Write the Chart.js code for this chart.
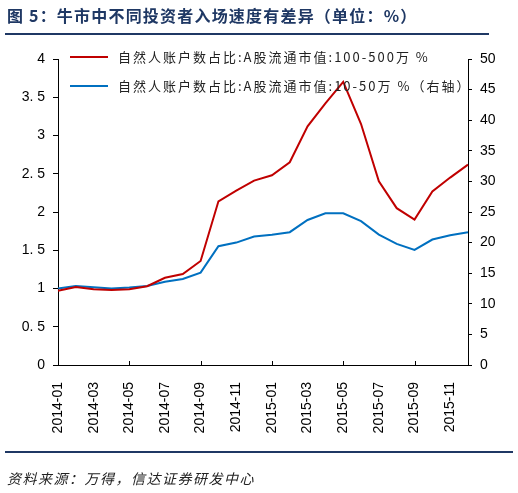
<!DOCTYPE html>
<html>
<head>
<meta charset="utf-8">
<script src="https://cdn.jsdelivr.net/npm/chart.js@4.4.1/dist/chart.umd.min.js"></script>
<style>
  body { margin: 0; background: #fff; }
  #page { position: relative; width: 518px; height: 493px; overflow: hidden; font-family: "Noto Sans CJK SC", sans-serif; }
  #chart { position: absolute; left: 0; top: 0; }
  #title { position: absolute; left: 7px; top: 3px; font-size: 16px; font-weight: bold; color: #1F3864; letter-spacing: 1.2px; white-space: nowrap; }
  .rule { position: absolute; height: 2px; background: #1F3864; }
  #src { position: absolute; left: 7px; top: 468px; font-size: 14px; font-style: italic; color: #222; letter-spacing: 1.5px; white-space: nowrap; }
  .leg { position: absolute; left: 70px; height: 16px; white-space: nowrap; font-size: 13px; color: #222; letter-spacing: 2px; }
  .leg i { position: absolute; left: 0; top: 7px; width: 38px; height: 2px; }
  .leg span { position: absolute; left: 48px; top: -2px; }
</style>
</head>
<body>
<div id="page">
  <canvas id="chart" width="518" height="493"></canvas>
  <div id="title">图 5：牛市中不同投资者入场速度有差异（单位：%）</div>
  <div class="rule" style="left:5px;top:33px;width:484px"></div>
  <div id="legend"></div>
  <div class="rule" style="left:5px;top:451px;width:508px"></div>
  <div id="src">资料来源：万得，信达证券研发中心</div>
</div>
<script>
// ── DATA ──────────────────────────────────────────────────────
const months = [
  '2014-01', '2014-02', '2014-03', '2014-04', '2014-05', '2014-06',
  '2014-07', '2014-08', '2014-09', '2014-10', '2014-11', '2014-12',
  '2015-01', '2015-02', '2015-03', '2015-04', '2015-05', '2015-06',
  '2015-07', '2015-08', '2015-09', '2015-10', '2015-11', '2015-12'
];

// 100-500万 (left axis)
const bigShare = [0.97, 1.02, 0.99, 0.98, 0.99, 1.03, 1.14, 1.19, 1.36, 2.14, 2.28, 2.41,
                  2.48, 2.65, 3.12, 3.42, 3.70, 3.15, 2.40, 2.05, 1.90, 2.27, 2.45, 2.62];

// 10-50万 (right axis)
const smallShare = [12.5, 12.9, 12.7, 12.5, 12.65, 12.9, 13.6, 14.05, 15.1, 19.4, 20.0, 21.0,
                    21.3, 21.7, 23.7, 24.8, 24.8, 23.5, 21.3, 19.8, 18.8, 20.5, 21.2, 21.7];

const labelBig   = '自然人账户数占比:A股流通市值:100-500万 %';
const labelSmall = '自然人账户数占比:A股流通市值:10-50万 %（右轴）';

const RED  = '#C00000';
const BLUE = '#0070C0';

// ── x axis ticks drawn inward ────────────────────────────────
const innerTicks = {
  id: 'innerTicks',
  afterDraw(chart) {
    const { ctx, scales: { x } } = chart;
    ctx.save();
    ctx.strokeStyle = '#000';
    ctx.lineWidth = 1;
    x.ticks.forEach((t, i) => {
      if (i % 2) return;
      const px = Math.round(x.getPixelForTick(i)) + 0.5;
      ctx.beginPath();
      ctx.moveTo(px, x.top);
      ctx.lineTo(px, x.top - 4);
      ctx.stroke();
    });
    ctx.restore();
  }
};

const tickFont = { family: '"Liberation Sans", Arial, sans-serif', size: 14 };

const chart = new Chart(document.getElementById('chart'), {
  type: 'line',
  data: {
    labels: months,
    datasets: [
      { label: labelBig,   data: bigShare,   yAxisID: 'y',  borderColor: RED,  borderWidth: 2, pointRadius: 0, tension: 0 },
      { label: labelSmall, data: smallShare, yAxisID: 'y1', borderColor: BLUE, borderWidth: 2, pointRadius: 0, tension: 0 }
    ]
  },
  options: {
    responsive: false,
    animation: false,
    layout: { padding: { top: 59, left: 0, right: 0, bottom: 0 } },
    plugins: { legend: { display: false }, tooltip: { enabled: false } },
    scales: {
      x: {
        offset: false,
        grid: { display: false },
        border: { color: '#000', width: 1 },
        ticks: {
          autoSkip: false, minRotation: 90, maxRotation: 90, padding: 9,
          color: '#000', font: tickFont,
          callback: (v, i) => (i % 2 === 0 ? months[i] : null)
        },
        afterFit: s => { s.height = 128; }
      },
      y: {
        position: 'left', min: 0, max: 4,
        grid: { drawOnChartArea: false, tickLength: 5, color: '#000' },
        border: { color: '#000', width: 1 },
        ticks: {
          stepSize: 0.5, padding: 8, color: '#000', font: tickFont,
          callback: v => String(v).replace('.', '. ')
        },
        afterFit: s => { s.width = 58; }
      },
      y1: {
        position: 'right', min: 0, max: 50,
        grid: { drawOnChartArea: false, tickLength: 4, color: '#000' },
        border: { color: '#000', width: 1 },
        ticks: { stepSize: 5, padding: 8, color: '#000', font: tickFont },
        afterFit: s => { s.width = 50; }
      }
    }
  },
  plugins: [innerTicks]
});

// ── LEGEND (inside the plot, top left) ───────────────────────
const legendRows = [49, 78];
const legend = document.getElementById('legend');
chart.data.datasets.forEach((ds, i) => {
  const row = document.createElement('div');
  row.className = 'leg';
  row.style.top = legendRows[i] + 'px';
  row.innerHTML = `<i style="background:${ds.borderColor}"></i><span>${ds.label}</span>`;
  legend.appendChild(row);
});
</script>
</body>
</html>
